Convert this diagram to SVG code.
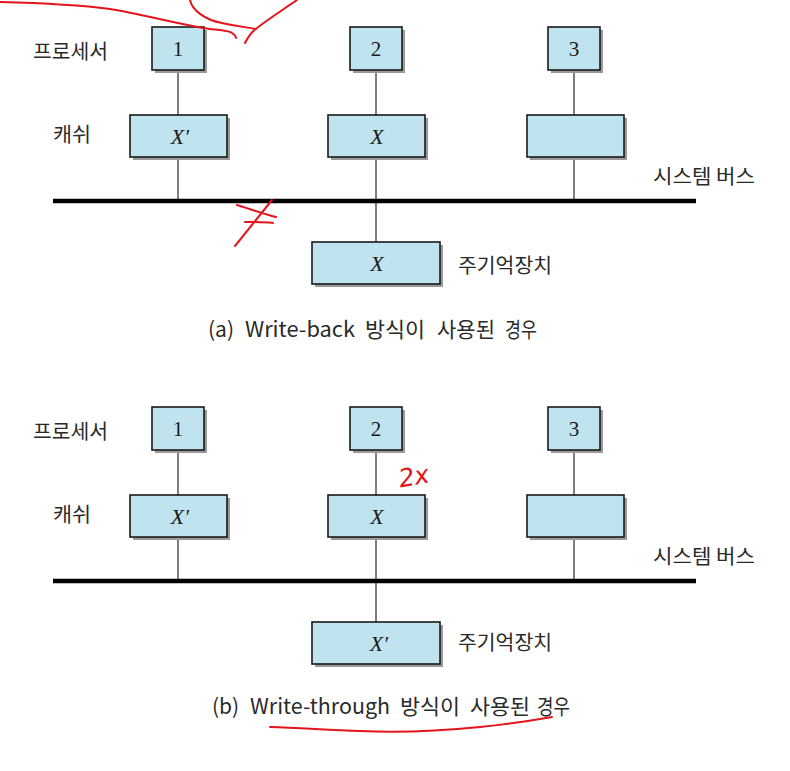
<svg xmlns="http://www.w3.org/2000/svg" width="790" height="771" viewBox="0 0 790 771">
<style>
.box{fill:#c0e4ef;stroke:#1a1a1a;stroke-width:1.6}
.sh{fill:#9a9a9a}
.ln{stroke:#3a3a3a;stroke-width:1.3;fill:none}
.bus{stroke:#000;stroke-width:4.5;fill:none}
.lbl{font-family:"Noto Sans CJK KR","Noto Sans",sans-serif;font-size:20px;fill:#2a2a2a}
.cap{font-family:"Noto Sans CJK KR","Noto Sans",sans-serif;font-size:21px;fill:#2a2a2a}
.num{font-family:"Liberation Serif","Times New Roman",serif;font-size:21px;fill:#1a1a1a;text-anchor:middle}
.var{font-family:"Liberation Serif","Times New Roman",serif;font-size:22px;font-style:italic;fill:#1a1a1a;text-anchor:middle}
.red{stroke:#e4141c;stroke-width:2;fill:none;stroke-linecap:round;stroke-linejoin:round}
</style>
<defs>
<g id="pbox"><rect class="sh" x="3" y="3" width="52" height="43"/><rect class="box" x="0" y="0" width="52" height="43"/></g>
<g id="cbox"><rect class="sh" x="3" y="3" width="97" height="42"/><rect class="box" x="0" y="0" width="97" height="42"/></g>
<g id="mbox"><rect class="sh" x="3" y="3" width="128" height="42"/><rect class="box" x="0" y="0" width="128" height="42"/></g>
</defs>
<rect width="790" height="771" fill="#ffffff"/>

<!-- ===== (a) ===== -->
<g id="connectors-a">
<line class="ln" x1="178" y1="70" x2="178" y2="115"/>
<line class="ln" x1="376" y1="70" x2="376" y2="115"/>
<line class="ln" x1="574" y1="70" x2="574" y2="115"/>
<line class="ln" x1="178" y1="157" x2="178" y2="201"/>
<line class="ln" x1="376" y1="157" x2="376" y2="242"/>
<line class="ln" x1="574" y1="157" x2="574" y2="201"/>
<line class="bus" x1="53" y1="201" x2="696" y2="201"/>
</g>
<g id="proc1-a"><use href="#pbox" x="152" y="27"/><text class="num" x="178" y="56">1</text></g>
<g id="proc2-a"><use href="#pbox" x="350" y="27"/><text class="num" x="376" y="56">2</text></g>
<g id="proc3-a"><use href="#pbox" x="548" y="27"/><text class="num" x="574" y="56">3</text></g>
<g id="cache1-a"><use href="#cbox" x="130" y="115"/><text class="var" x="180" y="144">X′</text></g>
<g id="cache2-a"><use href="#cbox" x="328" y="115"/><text class="var" x="377" y="144">X</text></g>
<g id="cache3-a"><use href="#cbox" x="527" y="115"/></g>
<g id="mem-a"><use href="#mbox" x="312" y="242"/><text class="var" x="377" y="271">X</text></g>
<g id="labels-a">
<text class="lbl" x="33" y="59" textLength="75" lengthAdjust="spacingAndGlyphs">프로세서</text>
<text class="lbl" x="53" y="142" textLength="38" lengthAdjust="spacingAndGlyphs">캐쉬</text>
<text class="lbl" x="653" y="184" textLength="102" lengthAdjust="spacingAndGlyphs">시스템 버스</text>
<text class="lbl" x="458" y="273" textLength="94" lengthAdjust="spacingAndGlyphs">주기억장치</text>
</g>
<g id="caption-a" class="cap">
<text x="208" y="337">(a)</text>
<text x="245" y="337" textLength="110" lengthAdjust="spacingAndGlyphs">Write-back</text>
<text x="365" y="337" textLength="60" lengthAdjust="spacingAndGlyphs">방식이</text>
<text x="437" y="337" textLength="58" lengthAdjust="spacingAndGlyphs">사용된</text>
<text x="505" y="337" textLength="32" lengthAdjust="spacingAndGlyphs">경우</text>
</g>

<!-- ===== (b) ===== -->
<g id="connectors-b">
<line class="ln" x1="178" y1="450" x2="178" y2="495"/>
<line class="ln" x1="376" y1="450" x2="376" y2="495"/>
<line class="ln" x1="574" y1="450" x2="574" y2="495"/>
<line class="ln" x1="178" y1="537" x2="178" y2="581"/>
<line class="ln" x1="376" y1="537" x2="376" y2="622"/>
<line class="ln" x1="574" y1="537" x2="574" y2="581"/>
<line class="bus" x1="53" y1="581" x2="696" y2="581"/>
</g>
<g id="proc1-b"><use href="#pbox" x="152" y="407"/><text class="num" x="178" y="436">1</text></g>
<g id="proc2-b"><use href="#pbox" x="350" y="407"/><text class="num" x="376" y="436">2</text></g>
<g id="proc3-b"><use href="#pbox" x="548" y="407"/><text class="num" x="574" y="436">3</text></g>
<g id="cache1-b"><use href="#cbox" x="130" y="495"/><text class="var" x="180" y="524">X′</text></g>
<g id="cache2-b"><use href="#cbox" x="328" y="495"/><text class="var" x="377" y="524">X</text></g>
<g id="cache3-b"><use href="#cbox" x="527" y="495"/></g>
<g id="mem-b"><use href="#mbox" x="312" y="622"/><text class="var" x="379" y="651">X′</text></g>
<g id="labels-b">
<text class="lbl" x="33" y="439" textLength="75" lengthAdjust="spacingAndGlyphs">프로세서</text>
<text class="lbl" x="53" y="522" textLength="38" lengthAdjust="spacingAndGlyphs">캐쉬</text>
<text class="lbl" x="653" y="564" textLength="102" lengthAdjust="spacingAndGlyphs">시스템 버스</text>
<text class="lbl" x="458" y="650" textLength="94" lengthAdjust="spacingAndGlyphs">주기억장치</text>
</g>
<g id="caption-b" class="cap">
<text x="212" y="714">(b)</text>
<text x="250" y="714" textLength="140" lengthAdjust="spacingAndGlyphs">Write-through</text>
<text x="400" y="714" textLength="60" lengthAdjust="spacingAndGlyphs">방식이</text>
<text x="470" y="714" textLength="60" lengthAdjust="spacingAndGlyphs">사용된</text>
<text x="537" y="714" textLength="33" lengthAdjust="spacingAndGlyphs">경우</text>
</g>

<!-- ===== red handwritten annotations ===== -->
<g id="annotations">
<path class="red" d="M0,2 C40,3 80,5 110,9 C140,14 170,22 203,28 C215,30 228,30 232,33 C235,35 236,37 236,38"/>
<path class="red" d="M190,0 C192,10 205,20 222,23 C235,26 245,27 256,29"/>
<path class="red" d="M245,43 C248,37 252,31 257,28 C270,18 284,9 297,0"/>
<path class="red" d="M237,205 C250,209 264,214 276,217"/>
<path class="red" d="M245,222 C255,222 265,222 273,223"/>
<path class="red" d="M272,200 C260,215 248,230 235,246"/>
<path class="red" d="M270,727 C300,728 330,730 360,731 C400,733 440,731 480,727 C510,724 535,720 552,717"/>
<text x="398" y="485" font-family="DejaVu Sans, sans-serif" font-size="25" font-style="italic" fill="#e4141c" transform="rotate(-10 414 474)">2x</text>
</g>
</svg>
